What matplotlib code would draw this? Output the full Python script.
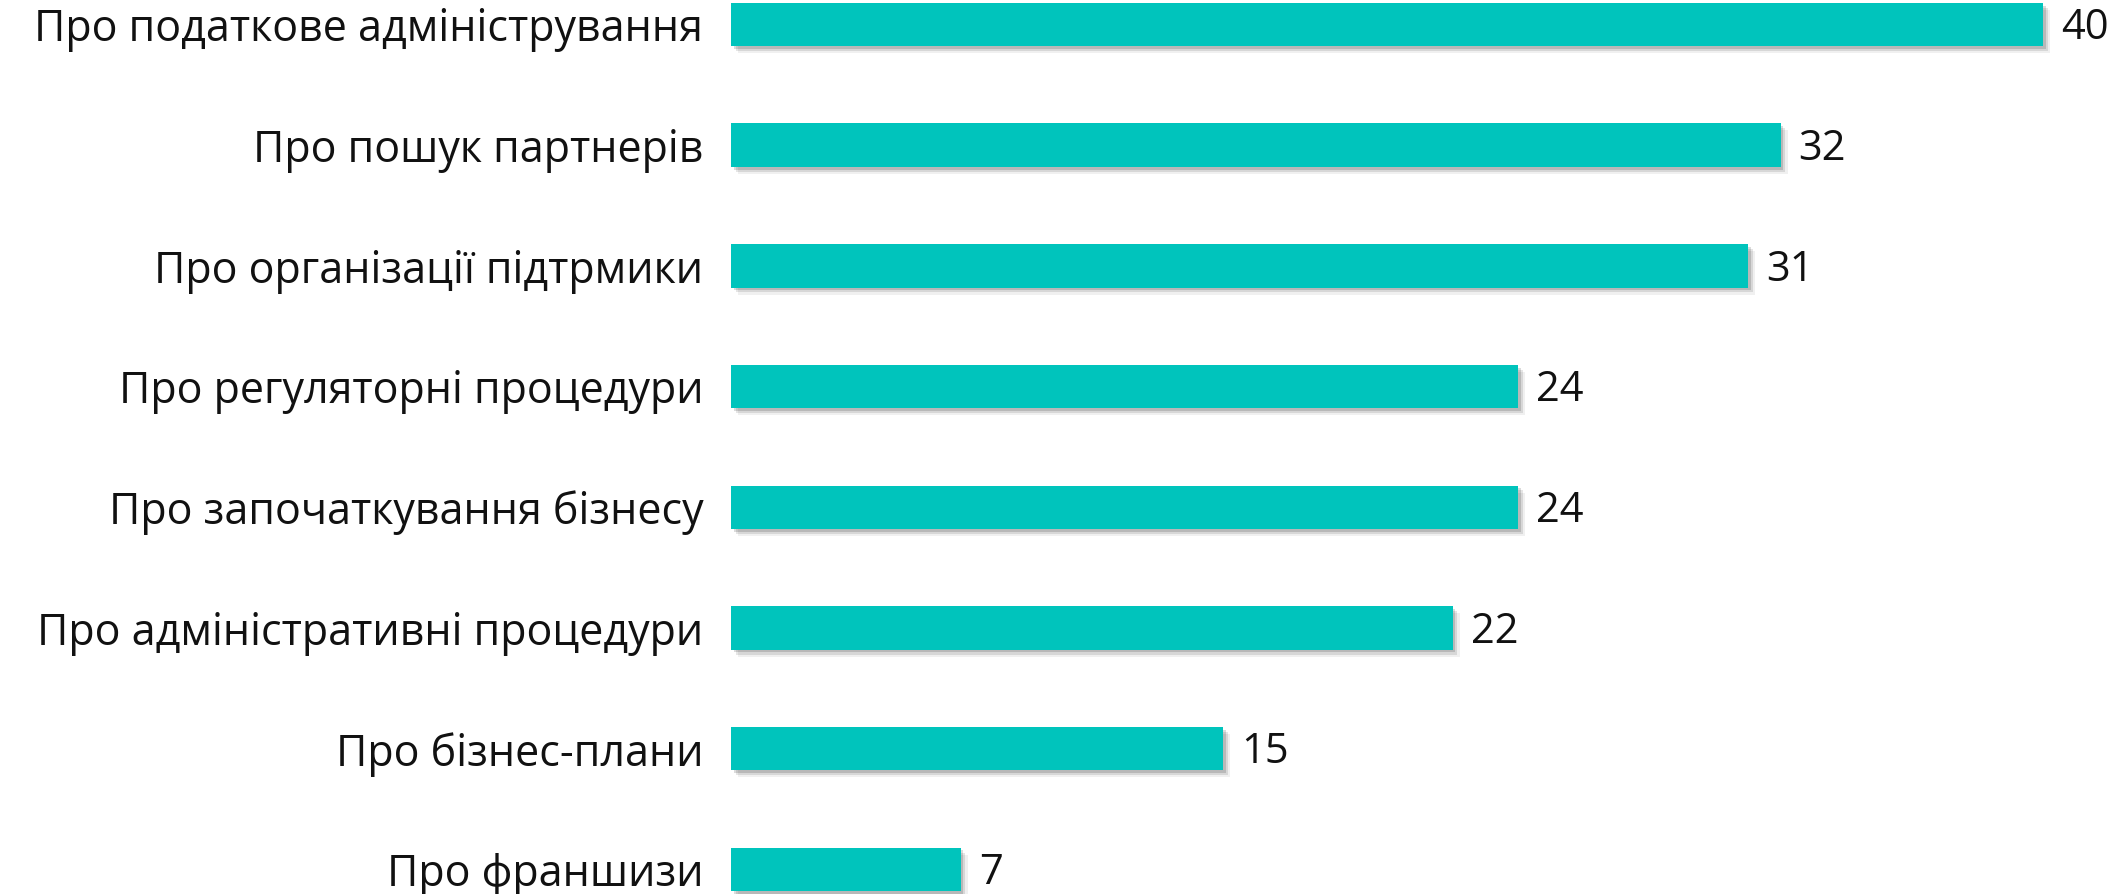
import matplotlib
matplotlib.use("Agg")
import matplotlib.pyplot as plt
import matplotlib.patheffects as pe

plt.rcParams["font.family"] = ["Open Sans", "DejaVu Sans"]

categories = [
    "Про податкове адміністрування",
    "Про пошук партнерів",
    "Про організації підтрмики",
    "Про регуляторні процедури",
    "Про започаткування бізнесу",
    "Про адміністративні процедури",
    "Про бізнес-плани",
    "Про франшизи",
]
values = [40, 32, 31, 24, 24, 22, 15, 7]

bar_color = "#00C4BC"

fig = plt.figure(figsize=(21.28, 8.94), dpi=100)
fig.patch.set_facecolor("white")
ax = fig.add_axes([731 / 2128, 0, 1 - 731 / 2128, 1])
ax.set_facecolor("none")

pos = list(range(len(categories)))
shadow = [
    pe.SimplePatchShadow(offset=(5, -5), shadow_rgbFace="#000000", alpha=0.06),
    pe.SimplePatchShadow(offset=(3.5, -3.5), shadow_rgbFace="#000000", alpha=0.10),
    pe.SimplePatchShadow(offset=(2, -2), shadow_rgbFace="#000000", alpha=0.14),
    pe.Normal(),
]
bars = ax.barh(pos, values, height=0.36, color=bar_color, linewidth=0)
for b in bars:
    b.set_path_effects(shadow)

for p, v in zip(pos, values):
    ax.text(v + 0.55, p + 0.03, str(v), va="center", ha="left", fontsize=30, color="#111111")

ax.set_xlim(0, (2128 - 731) / 32.8)
ax.set_ylim(7.204, -0.203)
ax.set_yticks(pos)
ax.set_yticklabels(categories, fontsize=31, color="#111111")
for t in ax.get_yticklabels():
    t.set_y(t.get_position()[1])
ax.tick_params(axis="y", length=0, pad=20)
ax.set_xticks([])
for s in ax.spines.values():
    s.set_visible(False)

fig.savefig("out.png", dpi=100)
